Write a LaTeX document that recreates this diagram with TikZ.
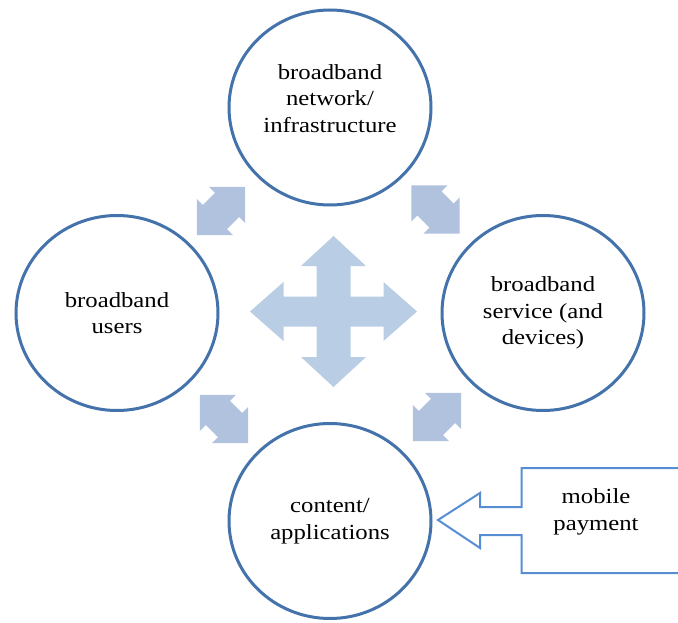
\documentclass[tikz,border=0pt]{standalone}
\usepackage{fontspec}
\setmainfont{Liberation Serif}[FakeStretch=1.15]
\usetikzlibrary{shapes.geometric,calc}
\definecolor{ringblue}{RGB}{68,114,170}
\definecolor{crossblue}{RGB}{185,205,229}
\definecolor{pairblue}{RGB}{176,194,221}
\definecolor{callblue}{RGB}{86,141,211}
\begin{document}
\begin{tikzpicture}[x=1pt,y=-1pt,
		every node/.style={align=center,font=\fontsize{21.5}{26.5}\selectfont},
		bubble/.style={ellipse,draw=ringblue,line width=3pt,fill=white,minimum width=202pt,minimum height=195pt,inner sep=0pt,outer sep=0pt}]
	\useasboundingbox (0,0) rectangle (678,623);
	\node[bubble] (network) at (330,107.5)
		{broadband\\network/\\infrastructure\\[-8pt]};
	\node[bubble] (users) at (117,313)
		{broadband\\users};
	\node[bubble] (service) at (543,313)
		{broadband\\service (and\\devices)};
	\node[bubble] (apps) at (330,521)
		{content/\\applications};
	\begin{scope}[shift={(333.5,311.5)}]
		\fill[crossblue] (-83.5,0) -- (-50,-29.5) -- (-50,-15) -- (-17,-15) -- (-17,-45.5) -- (-32.5,-45.5)
			-- (0,-75.5) -- (32.5,-45.5) -- (17,-45.5) -- (17,-15) -- (50,-15) -- (50,-29.5)
			-- (83.5,0) -- (50,29.5) -- (50,15) -- (17,15) -- (17,45.5) -- (32.5,45.5)
			-- (0,75.5) -- (-32.5,45.5) -- (-17,45.5) -- (-17,15) -- (-50,15) -- (-50,29.5) -- cycle;
	\end{scope}
	\foreach \cx/\cy/\ang in {221/211/45,435.5/209.5/-45,224/419/-45,437/417/45}
		\fill[pairblue,shift={(\cx,\cy)},rotate=\ang] (-34,0) -- (-8.5,25.5) -- (-8.5,17) -- (8.5,17) -- (8.5,25.5)
			-- (34,0) -- (8.5,-25.5) -- (8.5,-17) -- (-8.5,-17) -- (-8.5,-25.5) -- cycle;
	\coordinate (tip) at ($(apps.east)+(7,-1)$);
	\draw[callblue,line width=2pt,line join=miter] (tip) -- (480,493) -- (480,507) -- (521.5,507) -- (521.5,468)
		-- (690,468) -- (690,573) -- (521.5,573) -- (521.5,535) -- (480,535) -- (480,548) -- cycle;
	\node (payment) at (596,512)
		{mobile\\payment};
\end{tikzpicture}
\end{document}
